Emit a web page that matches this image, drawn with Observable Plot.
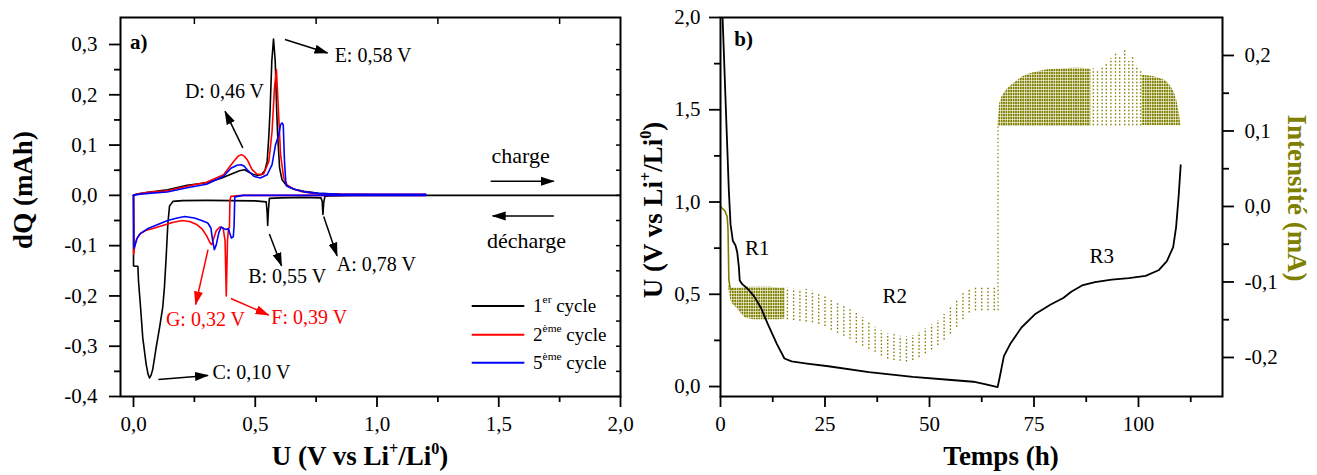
<!DOCTYPE html>
<html><head><meta charset="utf-8">
<script src="https://cdn.jsdelivr.net/npm/d3@7"></script>
<script src="https://cdn.jsdelivr.net/npm/@observablehq/plot@0.6"></script>
<style>
body{margin:0;background:#fff;}
#wrap{position:relative;width:1317px;height:475px;overflow:hidden;background:#fff;}
#pa{position:absolute;left:0;top:0;}
#pb{position:absolute;left:660px;top:0;}
#defs{position:absolute;left:0;top:0;}
</style></head><body>
<svg id="defs" width="0" height="0">
<defs>
<marker id="ahk" viewBox="0 -5 14 10" refX="13" refY="0" markerWidth="14" markerHeight="10" markerUnits="userSpaceOnUse" orient="auto"><path d="M0,-4.5L14,0L0,4.5Z" fill="#000"/></marker>
<marker id="ahr" viewBox="0 -5 14 10" refX="13" refY="0" markerWidth="14" markerHeight="10" markerUnits="userSpaceOnUse" orient="auto"><path d="M0,-4.5L14,0L0,4.5Z" fill="#f00"/></marker>
<pattern id="olv" patternUnits="userSpaceOnUse" width="2.4" height="3"><rect width="1.8" height="2.4" fill="#808000"/></pattern>
</defs></svg>
<div id="wrap"><div id="pa"></div><div id="pb"></div></div>
<script>
// ---------- Panel a data: dQ vs U ----------
const c1DisU = [0.0,0.0,0.005,0.018,0.0205,0.029,0.038,0.052,0.060,0.066,0.072,0.079,0.093,0.107,0.120,0.127,0.134,0.141,0.148,0.162,0.20,0.30,0.40,0.50,0.545,0.549,0.551,0.554,0.558,0.60,0.70,0.770,0.775,0.778,0.781,0.786,0.80,0.90,1.2,2.0];
const c1DisQ = [0.0,-0.14,-0.141,-0.141,-0.17,-0.223,-0.283,-0.336,-0.356,-0.363,-0.358,-0.346,-0.303,-0.263,-0.223,-0.183,-0.124,-0.057,-0.021,-0.012,-0.0105,-0.010,-0.0105,-0.011,-0.013,-0.035,-0.060,-0.03,-0.006,-0.005,-0.004,-0.005,-0.012,-0.038,-0.015,-0.002,-0.001,0.0,0.0,0.0];
const c1ChU = [0.000,0.005,0.02,0.06,0.14,0.22,0.30,0.36,0.41,0.435,0.456,0.475,0.49,0.508,0.525,0.540,0.549,0.556,0.561,0.568,0.575,0.582,0.588,0.592,0.600,0.61,0.631,0.66,0.70,0.76,0.85,1.0,1.2];
const c1ChQ = [0.000,0.001,0.003,0.006,0.011,0.020,0.025,0.034,0.044,0.049,0.051,0.046,0.042,0.040,0.041,0.050,0.068,0.120,0.170,0.267,0.311,0.267,0.170,0.120,0.054,0.031,0.018,0.012,0.008,0.004,0.002,0.001,0.001];
const c2DisU = [0.0,0.001,0.005,0.012,0.025,0.05,0.08,0.12,0.16,0.20,0.23,0.26,0.28,0.30,0.315,0.322,0.33,0.34,0.355,0.368,0.376,0.381,0.386,0.39,0.394,0.396,0.40,0.45,1.2];
const c2DisQ = [0.0,-0.117,-0.10,-0.088,-0.077,-0.07,-0.066,-0.060,-0.054,-0.050,-0.052,-0.058,-0.066,-0.08,-0.095,-0.098,-0.085,-0.07,-0.063,-0.065,-0.09,-0.20,-0.09,-0.066,-0.064,-0.01,-0.002,0.0,0.0];
const c2ChU = [0,0.005,0.02,0.06,0.14,0.22,0.30,0.37,0.412,0.43,0.443,0.455,0.467,0.487,0.508,0.534,0.556,0.569,0.579,0.587,0.594,0.604,0.617,0.631,0.66,0.686,0.754,0.85,1.0,1.2];
const c2ChQ = [0,0.001,0.003,0.006,0.009,0.018,0.026,0.041,0.068,0.078,0.081,0.078,0.071,0.051,0.042,0.042,0.068,0.127,0.214,0.250,0.180,0.081,0.0345,0.021,0.012,0.008,0.003,0.002,0.002,0.002];
const c5DisU = [0.0,0.002,0.006,0.015,0.03,0.06,0.10,0.14,0.18,0.21,0.25,0.28,0.305,0.318,0.325,0.332,0.34,0.35,0.36,0.37,0.38,0.39,0.395,0.402,0.41,0.413,0.416,0.45,1.2];
const c5DisQ = [0.0,-0.105,-0.10,-0.085,-0.075,-0.066,-0.058,-0.050,-0.045,-0.042,-0.045,-0.05,-0.055,-0.065,-0.09,-0.108,-0.098,-0.075,-0.063,-0.066,-0.068,-0.066,-0.075,-0.085,-0.082,-0.06,-0.003,0.0,0.0];
const c5ChU = [0,0.005,0.02,0.06,0.138,0.22,0.30,0.37,0.40,0.425,0.442,0.455,0.467,0.494,0.521,0.549,0.569,0.583,0.597,0.604,0.610,0.615,0.620,0.626,0.638,0.66,0.70,0.76,0.85,1.0,1.2];
const c5ChQ = [0,0.001,0.002,0.004,0.0066,0.015,0.022,0.038,0.054,0.060,0.061,0.058,0.051,0.038,0.0345,0.041,0.061,0.10,0.121,0.141,0.144,0.14,0.068,0.021,0.017,0.012,0.007,0.004,0.002,0.002,0.002];

const aXMajor = [0, 0.5, 1, 1.5, 2];
const aXMinor = [0.25, 0.75, 1.25, 1.75];
const aYMajor = [-0.4, -0.3, -0.2, -0.1, 0, 0.1, 0.2, 0.3];
const aYMinor = [-0.35, -0.25, -0.15, -0.05, 0.05, 0.15, 0.25, 0.35];

const annText = ["E: 0,58 V", "D: 0,46 V", "B: 0,55 V", "A: 0,78 V", "G: 0,32 V", "F: 0,39 V", "C: 0,10 V"];
const annX = [0.826, 0.211, 0.471, 0.835, 0.133, 0.566, 0.324];
const annY = [0.277, 0.207, -0.161, -0.137, -0.247, -0.244, -0.353];
const annColor = ["#000", "#000", "#000", "#000", "#f00", "#f00", "#000"];
const arrX1 = [0.622, 0.449, 0.558, 0.781, 0.306, 0.400, 0.102, 1.467, 1.726];
const arrY1 = [0.310, 0.0945, -0.077, -0.042, -0.108, -0.205, -0.366, 0.028, -0.041];
const arrX2 = [0.797, 0.376, 0.608, 0.836, 0.255, 0.555, 0.306, 1.726, 1.475];
const arrY2 = [0.283, 0.167, -0.140, -0.120, -0.217, -0.238, -0.358, 0.028, -0.041];
const arrColor = ["#000", "#000", "#000", "#000", "#f00", "#f00", "#000", "#000", "#000"];
const dirText = ["charge", "décharge"];
const dirX = [1.59, 1.614];
const dirY = [0.078, -0.091];
const legNum = ["1", "2", "5"];
const legSup = ["er", "ème", "ème"];
const legColor = ["#000", "#f00", "#00f"];
const legY = [-0.220, -0.277, -0.333];
const legX1 = 1.389, legX2 = 1.605, legTextX = 1.643;

// ---------- Panel b data ----------
const uT = [0.2,0.5,1.5,2.0,2.4,2.95,3.6,4.0,4.4,4.6,5.2,6.5,8,9.6,11.3,13.5,15.3,17,20.7,25.8,35.5,46,56,60.5,63.5,66.3,66.8,67.8,69.3,72,75.4,79,82,84,86.5,89.6,93.6,97.7,101.7,104.8,106.8,108.3,109,109.6,110.1];
const uV = [2.2,2.0,1.37,1.06,0.88,0.79,0.764,0.728,0.647,0.575,0.555,0.53,0.49,0.43,0.34,0.23,0.152,0.136,0.124,0.11,0.078,0.052,0.034,0.026,0.012,-0.003,0.05,0.165,0.23,0.32,0.395,0.445,0.48,0.515,0.548,0.566,0.579,0.588,0.60,0.63,0.68,0.756,0.864,1.03,1.20];
// current: initial solid trace
const iStartT = [0, 0.4, 1.0, 1.6, 1.8, 2.0, 2.3, 2.6];
const iStartI = [0.0, -0.0024, -0.0055, -0.0135, -0.031, -0.097, -0.108, -0.110];
// dense discharge band (R1)
const r1T = [2.0, 2.5, 3.0, 4.0, 5.0, 6.0, 8, 10, 12, 14, 15.5];
const r1Hi = [-0.105, -0.108, -0.108, -0.108, -0.108, -0.107, -0.107, -0.107, -0.107, -0.108, -0.108];
const r1Lo = [-0.110, -0.125, -0.130, -0.135, -0.142, -0.148, -0.150, -0.150, -0.150, -0.150, -0.149];
// sparse discharge pulses (R2)
const pT = [16.0,17.5,19.0,20.5,22.0,23.5,25.0,26.5,28.0,29.5,31.0,32.5,34.0,35.5,37.0,38.5,40.0,41.5,43.0,44.5,46.0,47.5,49.0,50.5,52.0,53.5,55.0,56.5,58.0,59.5,61.0,62.5,64.0,65.5];
const pHi = [-0.108,-0.109,-0.110,-0.110,-0.112,-0.115,-0.118,-0.123,-0.127,-0.131,-0.136,-0.141,-0.147,-0.154,-0.160,-0.165,-0.169,-0.170,-0.172,-0.173,-0.171,-0.167,-0.162,-0.157,-0.151,-0.143,-0.133,-0.123,-0.115,-0.109,-0.106,-0.106,-0.106,-0.106];
const pLo = [-0.150,-0.151,-0.152,-0.153,-0.154,-0.156,-0.159,-0.164,-0.168,-0.172,-0.176,-0.181,-0.185,-0.189,-0.193,-0.198,-0.202,-0.204,-0.205,-0.206,-0.204,-0.200,-0.195,-0.190,-0.184,-0.177,-0.169,-0.160,-0.150,-0.141,-0.138,-0.138,-0.138,-0.138];
// switch to charge
const swT = [66.4], swLo = [-0.138], swHi = [0.108];
// dense charge band 1
const c1T = [66.4, 66.8, 67.3, 68.5, 70.1, 72.4, 74.2, 76.4, 78.2, 81.5, 84.0, 86.5, 88.6];
const c1Hi = [0.108, 0.136, 0.145, 0.155, 0.163, 0.172, 0.176, 0.179, 0.181, 0.182, 0.183, 0.183, 0.182];
const c1Lo = [0.106, 0.106, 0.106, 0.106, 0.106, 0.106, 0.106, 0.106, 0.106, 0.106, 0.106, 0.106, 0.106];
// sparse charge pulses
const qT = [89.2, 90.2, 91.3, 92.3, 93.4, 94.5, 95.5, 96.7, 97.7, 98.6, 99.6, 100.5];
const qHi = [0.182, 0.180, 0.183, 0.188, 0.196, 0.203, 0.199, 0.207, 0.192, 0.198, 0.186, 0.179];
const qLo = [0.107, 0.107, 0.107, 0.107, 0.107, 0.107, 0.107, 0.107, 0.107, 0.107, 0.107, 0.107];
// dense charge band 2
const c2T = [100.9, 102, 103.5, 105, 106.4, 107.5, 108.5, 109.2, 109.7, 110.1];
const c2Hi = [0.174, 0.173, 0.172, 0.170, 0.167, 0.161, 0.152, 0.140, 0.125, 0.110];
const c2Lo = [0.107, 0.107, 0.107, 0.107, 0.107, 0.107, 0.107, 0.107, 0.107, 0.107];

const bXMajor = [0, 25, 50, 75, 100];
const bXMinor = [12.5, 37.5, 62.5, 87.5, 112.5];
const bYMajor = [0, 0.5, 1.0, 1.5, 2.0];
const bYMinor = [0.25, 0.75, 1.25, 1.75];
const iMajor = [-0.2, -0.1, 0, 0.1, 0.2];
const iMinor = [-0.15, -0.05, 0.05, 0.15];
const rText = ["R1", "R2", "R3"];
const rX = [8.8, 41.7, 91.2];
const rY = [0.752, 0.49, 0.707];

// ---------- drawing ----------
const FONT = "'Liberation Serif','Times New Roman',serif";
const OLIVE = "#808000";
const fmtC = d => d3.format(".1f")(d).replace(".", ",").replace("\u2212", "-");
const idx = a => a.map((_, i) => i);
const blank = () => "";
const baseStyle = {fontFamily: FONT, fontSize: "21px", background: "white", color: "black", overflow: "visible"};

function series(U, Q, color) {
  return Plot.line(idx(U), {x: i => U[i], y: i => Q[i], stroke: color, strokeWidth: 1.6, curve: "linear"});
}

const plotA = Plot.plot({
  width: 660, height: 475, marginLeft: 120, marginRight: 40, marginTop: 17, marginBottom: 79,
  x: {domain: [-0.0534, 2.0]},
  y: {domain: [-0.4, 0.3537]},
  color: {type: "identity"},
  style: baseStyle,
  marks: [
    Plot.axisY({ticks: aYMajor, tickSize: 11, tickPadding: 12, tickFormat: fmtC, strokeWidth: 1.8, label: null}),
    Plot.axisY({ticks: aYMinor.filter(d => d < 0.35), tickSize: 6, tickFormat: blank, strokeWidth: 1.8, label: null}),
    Plot.axisX({ticks: aXMajor, tickSize: 11, tickPadding: 9, tickFormat: fmtC, strokeWidth: 1.8, label: null}),
    Plot.axisX({ticks: aXMinor, tickSize: 6, tickFormat: blank, strokeWidth: 1.8, label: null}),
    Plot.axisX({anchor: "top", ticks: aXMinor, tickSize: -6, tickFormat: blank, strokeWidth: 1.5, label: null}),
    Plot.axisY({anchor: "right", ticks: aYMajor.concat(aYMinor).filter(d => d < 0.35 && d > -0.4), tickSize: -5, tickFormat: blank, strokeWidth: 1.5, label: null}),
    series(c1DisU, c1DisQ, "#000"),
    series(c1ChU, c1ChQ, "#000"),
    series(c2DisU, c2DisQ, "#f00"),
    series(c2ChU, c2ChQ, "#f00"),
    series(c5DisU, c5DisQ, "#00f"),
    series(c5ChU, c5ChQ, "#00f"),
    Plot.link(idx(arrX1), {x1: i => arrX1[i], y1: i => arrY1[i], x2: i => arrX2[i], y2: i => arrY2[i], stroke: i => arrColor[i], strokeWidth: 1.5}),
    Plot.text(idx(annText), {x: i => annX[i], y: i => annY[i], text: i => annText[i], fill: i => annColor[i], textAnchor: "start", fontSize: 20}),
    Plot.text(idx(dirText), {x: i => dirX[i], y: i => dirY[i], text: i => dirText[i], fill: "#000", textAnchor: "middle", fontSize: 22}),
    Plot.link(idx(legY), {x1: legX1, x2: legX2, y1: i => legY[i], y2: i => legY[i], stroke: i => legColor[i], strokeWidth: 2}),
    Plot.text(["a)"], {x: -0.014, y: 0.305, text: d => d, textAnchor: "start", fontSize: 21, fontWeight: "bold"}),
    Plot.frame({stroke: "#000", strokeWidth: 2})
  ]
});
document.getElementById("pa").appendChild(plotA);

// current <-> voltage axis mapping for the twin axis
const iToU = d3.scaleLinear().domain([-0.2517, 0.2503]).range([-0.054, 2.0]);

const plotB = Plot.plot({
  width: 657, height: 475, marginLeft: 60, marginRight: 95, marginTop: 17, marginBottom: 79,
  x: {domain: [0, 120.1]},
  y: {domain: [-0.054, 2.0]},
  style: baseStyle,
  marks: [
    Plot.axisY({ticks: bYMajor, tickSize: 11, tickPadding: 9, tickFormat: fmtC, strokeWidth: 1.8, label: null}),
    Plot.axisY({ticks: bYMinor, tickSize: 6, tickFormat: blank, strokeWidth: 1.8, label: null}),
    Plot.axisY({anchor: "right", ticks: iMajor.map(iToU), tickSize: 11, tickPadding: 11, tickFormat: d => fmtC(iToU.invert(d)), strokeWidth: 1.8, label: null}),
    Plot.axisY({anchor: "right", ticks: iMinor.map(iToU), tickSize: 6, tickFormat: blank, strokeWidth: 1.8, label: null}),
    Plot.axisX({ticks: bXMajor, tickSize: 11, tickPadding: 9, tickFormat: d3.format("d"), strokeWidth: 1.8, label: null}),
    Plot.axisX({ticks: bXMinor, tickSize: 6, tickFormat: blank, strokeWidth: 1.8, label: null}),
    Plot.areaY(idx(r1T), {x: i => r1T[i], y1: i => iToU(r1Lo[i]), y2: i => iToU(r1Hi[i]), fill: "url(#olv)"}),
    Plot.ruleX(idx(pT), {x: i => pT[i], y1: i => iToU(pLo[i]), y2: i => iToU(pHi[i]), stroke: OLIVE, strokeWidth: 1.4, strokeDasharray: "1.5,2"}),
    Plot.ruleX(idx(swT), {x: i => swT[i], y1: i => iToU(swLo[i]), y2: i => iToU(swHi[i]), stroke: OLIVE, strokeWidth: 1.3, strokeDasharray: "1.3,2.5"}),
    Plot.areaY(idx(c1T), {x: i => c1T[i], y1: i => iToU(c1Lo[i]), y2: i => iToU(c1Hi[i]), fill: "url(#olv)"}),
    Plot.ruleX(idx(qT), {x: i => qT[i], y1: i => iToU(qLo[i]), y2: i => iToU(qHi[i]), stroke: OLIVE, strokeWidth: 1.4, strokeDasharray: "1.5,2"}),
    Plot.areaY(idx(c2T), {x: i => c2T[i], y1: i => iToU(c2Lo[i]), y2: i => iToU(c2Hi[i]), fill: "url(#olv)"}),
    Plot.line(idx(iStartT), {x: i => iStartT[i], y: i => iToU(iStartI[i]), stroke: OLIVE, strokeWidth: 1.6}),
    Plot.line(idx(uT), {x: i => uT[i], y: i => uV[i], stroke: "#000", strokeWidth: 1.8, clip: true}),
    Plot.text(idx(rText), {x: i => rX[i], y: i => rY[i], text: i => rText[i], fontSize: 21, textAnchor: "middle"}),
    Plot.text(["b)"], {x: 3.3, y: 1.88, text: d => d, textAnchor: "start", fontSize: 21, fontWeight: "bold"}),
    Plot.frame({stroke: "#000", strokeWidth: 2})
  ]
});
document.getElementById("pb").appendChild(plotB);

// arrow heads on links
d3.select(plotA).selectAll('g[aria-label="link"] path').each(function () {
  const s = (this.getAttribute("stroke") || "").toLowerCase();
  if (s === "#f00" || s === "red" || s === "#ff0000") this.setAttribute("marker-end", "url(#ahr)");
  else if (s === "#000" || s === "black" || s === "#000000") this.setAttribute("marker-end", "url(#ahk)");
});
// legend links: no arrow heads
d3.select(plotA).selectAll('g[aria-label="link"]').each(function (d, gi) {
  if (gi === 1) d3.select(this).selectAll("path").attr("marker-end", null);
});

function richText(svg, x, y, parts, o = {}) {
  const size = o.size || 20;
  const t = d3.select(svg).append("text")
    .attr("transform", `translate(${x},${y}) rotate(${o.rotate || 0})`)
    .attr("text-anchor", o.anchor || "start")
    .attr("font-family", FONT).attr("font-size", size)
    .attr("font-weight", o.weight || "normal").attr("fill", o.fill || "#000");
  let raised = false;
  const R = (o.raise || 0.42) * size;
  for (const p of parts) {
    const sup = typeof p !== "string";
    const ts = t.append("tspan").text(sup ? p.sup : p);
    if (sup && !raised) { ts.attr("dy", -R); raised = true; }
    else if (!sup && raised) { ts.attr("dy", R); raised = false; }
    if (sup) ts.attr("font-size", size * (o.supScale || 0.6));
  }
}

const sxA = plotA.scale("x"), syA = plotA.scale("y");
legNum.forEach((n, i) => {
  richText(plotA, sxA.apply(legTextX), syA.apply(legY[i]) + 7, [n, {sup: legSup[i]}, " cycle"], {size: 19, supScale: 0.6, raise: 0.5});
});
richText(plotA, 32, 190, ["dQ (mAh)"], {size: 27, weight: "bold", anchor: "middle", rotate: -90});
richText(plotA, 360, 465, ["U (V vs Li", {sup: "+"}, "/Li", {sup: "0"}, ")"], {size: 27, weight: "bold", anchor: "middle"});
richText(plotB, 2, 210, ["U (V vs Li", {sup: "+"}, "/Li", {sup: "0"}, ")"], {size: 27, weight: "bold", anchor: "middle", rotate: -90});
richText(plotB, 628, 198, ["Intensité (mA)"], {size: 27, weight: "bold", anchor: "middle", rotate: 90, fill: OLIVE});
richText(plotB, 341, 465, ["Temps (h)"], {size: 27, weight: "bold", anchor: "middle"});
</script>
</body></html>
